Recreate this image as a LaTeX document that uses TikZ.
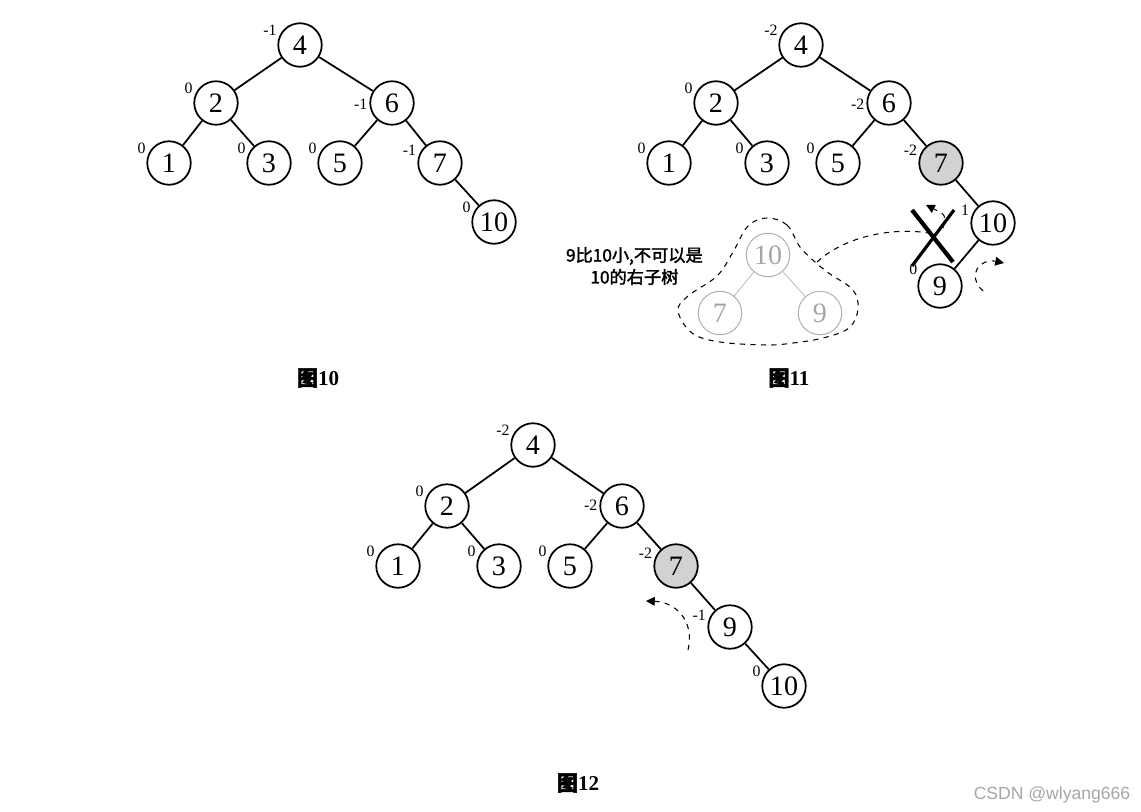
\documentclass[tikz,border=0pt]{standalone}
\usepackage{fontspec}
\setmainfont{Liberation Serif}
\setsansfont{Liberation Sans}
\newfontfamily\cjk{Noto Sans CJK SC}[FakeBold=2]
\usepackage{tikz}
\usetikzlibrary{positioning,calc,arrows.meta}

\begin{document}
\begin{tikzpicture}[
    x=0.02cm, y=-0.02cm,
    vtx/.style={
        draw,
        circle,
        line width=1pt,
        minimum size=0.87cm,
        inner sep=0pt,
        font=\fontsize{16}{18}\selectfont
    },
    hot/.style={vtx, fill=gray!35},
    ghost/.style={vtx, draw=gray!60, text=gray!70, line width=0.6pt},
    bal/.style={font=\fontsize{9}{10}\selectfont, inner sep=1pt, label distance=0pt},
    edge/.style={line width=1pt},
    turn/.style={-{Triangle[length=5pt,width=5pt]}, dashed, semithick},
    caption/.style={font=\fontsize{12}{14}\selectfont\bfseries}
]
\useasboundingbox (0,0) rectangle (1141,811);

% figure 10
\node[vtx, label={[bal]160:-1}] (a4) at (300,45) {4};
\node[vtx, label={[bal]160:0}] (a2) at (216,103) {2};
\node[vtx, label={[bal]182:-1}] (a6) at (392,103) {6};
\node[vtx, label={[bal]160:0}] (a1) at (169,163) {1};
\node[vtx, label={[bal]160:0}] (a3) at (269,163) {3};
\node[vtx, label={[bal]160:0}] (a5) at (340,163) {5};
\node[vtx, label={[bal]165:-1}] (a7) at (440,163) {7};
\node[vtx, label={[bal]160:0}] (a10) at (494,222) {10};
\draw[edge] (a4) -- (a2);
\draw[edge] (a4) -- (a6);
\draw[edge] (a2) -- (a1);
\draw[edge] (a2) -- (a3);
\draw[edge] (a6) -- (a5);
\draw[edge] (a6) -- (a7);
\draw[edge] (a7) -- (a10);
\node[caption] (cap10) at (318,378) {{\cjk 图}10};

% figure 11
\node[vtx, label={[bal]160:-2}] (b4) at (801,45) {4};
\node[vtx, label={[bal]160:0}] (b2) at (716,103) {2};
\node[vtx, label={[bal]182:-2}] (b6) at (889,103) {6};
\node[vtx, label={[bal]160:0}] (b1) at (669,163) {1};
\node[vtx, label={[bal]160:0}] (b3) at (767,163) {3};
\node[vtx, label={[bal]160:0}] (b5) at (838,163) {5};
\node[hot, label={[bal]165:-2}] (b7) at (941,163) {7};
\node[vtx, label={[bal]165:1}] (b10) at (993,223) {10};
\node[vtx, label={[bal]155:0}] (b9) at (940,286) {9};
\draw[edge] (b4) -- (b2);
\draw[edge] (b4) -- (b6);
\draw[edge] (b2) -- (b1);
\draw[edge] (b2) -- (b3);
\draw[edge] (b6) -- (b5);
\draw[edge] (b6) -- (b7);
\draw[edge] (b7) -- (b10);
\draw[edge] (b10) -- (b9);
% crossed-out link
\coordinate (xa) at (912,210);
\coordinate (xb) at (953,262);
\coordinate (xc) at (954,210);
\coordinate (xd) at (912,266);
\coordinate (xm) at (934,234);
\draw[line width=2.4pt] (xa) -- (xb);
\draw[line width=1.8pt] (xc) -- (xd);
\coordinate (ra) at (943,228);
\coordinate (rb) at (926,205);
\draw[turn] (ra) .. controls (946,215) .. (rb);
\coordinate (rc) at (983,291);
\coordinate (rd) at (1004,263);
\draw[turn] (rc) .. controls (966,275) and (980,258) .. (rd);

% wrong subtree
\node[ghost] (g10) at (768,255) {10};
\node[ghost] (g7) at (720,313) {7};
\node[ghost] (g9) at (820,313) {9};
\draw[gray!60] (g10) -- (g7);
\draw[gray!60] (g10) -- (g9);
\draw[dashed, semithick] plot[smooth cycle, tension=0.6] coordinates {
    (767,218) (787,225) (800,247) (815,262) (830,274) (853,290) (858,309)
    (849,328) (823,338) (793,343) (767,345) (720,342) (692,333) (678,311)
    (688,296) (717,276) (733,252) (748,226)};
\coordinate (gb) at (817,262);
\draw[dashed, semithick] (gb) .. controls (845,236) and (895,226) .. (xm);
\node[font=\fontsize{9.8}{12.5}\selectfont, align=center, anchor=east] (note)
    at (709,266) {\cjk 9比10小,不可以是\\\cjk 10的右子树};
\node[caption] (cap11) at (789,378) {{\cjk 图}11};

% figure 12
\node[vtx, label={[bal]160:-2}] (c4) at (533,445) {4};
\node[vtx, label={[bal]160:0}] (c2) at (447,506) {2};
\node[vtx, label={[bal]178:-2}] (c6) at (622,506) {6};
\node[vtx, label={[bal]160:0}] (c1) at (398,566) {1};
\node[vtx, label={[bal]160:0}] (c3) at (499,566) {3};
\node[vtx, label={[bal]160:0}] (c5) at (570,566) {5};
\node[hot, label={[bal]165:-2}] (c7) at (676,566) {7};
\node[vtx, label={[bal]168:-1}] (c9) at (730,627) {9};
\node[vtx, label={[bal]160:0}] (c10) at (784,686) {10};
\draw[edge] (c4) -- (c2);
\draw[edge] (c4) -- (c6);
\draw[edge] (c2) -- (c1);
\draw[edge] (c2) -- (c3);
\draw[edge] (c6) -- (c5);
\draw[edge] (c6) -- (c7);
\draw[edge] (c7) -- (c9);
\draw[edge] (c9) -- (c10);
\coordinate (ta) at (688,650);
\coordinate (tb) at (646,601);
\draw[turn] (ta) .. controls (695,620) and (675,602) .. (tb);
\node[caption] (cap12) at (578,783) {{\cjk 图}12};

\node[font=\sffamily\fontsize{10}{12}\selectfont, text=gray!70] (mark) at (1052,795) {CSDN @wlyang666};
\end{tikzpicture}
\end{document}
